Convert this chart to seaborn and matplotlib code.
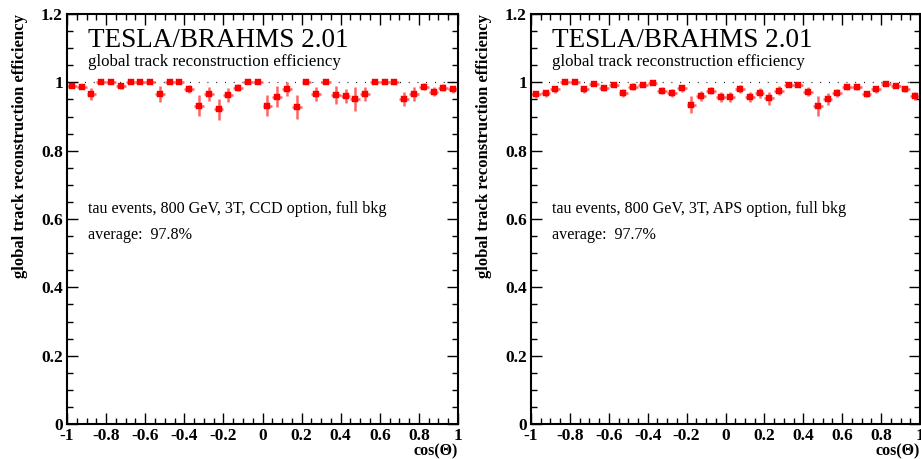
import numpy as np
import pandas as pd
import matplotlib
matplotlib.use("Agg")
import matplotlib.pyplot as plt
import seaborn as sns
from matplotlib.ticker import MultipleLocator, FixedLocator

# ---------------- data ----------------
cos_theta = [-0.975, -0.925, -0.875, -0.825, -0.775, -0.725, -0.675, -0.625, -0.575, -0.525,
             -0.475, -0.425, -0.375, -0.325, -0.275, -0.225, -0.175, -0.125, -0.075, -0.025,
             0.025, 0.075, 0.125, 0.175, 0.225, 0.275, 0.325, 0.375, 0.425, 0.475,
             0.525, 0.575, 0.625, 0.675, 0.725, 0.775, 0.825, 0.875, 0.925, 0.975]
bin_halfwidth = 0.025

ccd_eff = [0.990, 0.987, 0.965, 1.0, 1.0, 0.988, 1.0, 1.0, 1.0, 0.966,
           1.0, 1.0, 0.980, 0.932, 0.966, 0.921, 0.963, 0.984, 1.0, 1.0,
           0.932, 0.958, 0.980, 0.929, 1.0, 0.966, 1.0, 0.963, 0.960, 0.951,
           0.965, 1.0, 1.0, 1.0, 0.951, 0.965, 0.987, 0.973, 0.984, 0.980]
ccd_err = [0.007, 0.007, 0.018, 0.0, 0.0, 0.008, 0.0, 0.0, 0.0, 0.024,
           0.0, 0.0, 0.012, 0.03, 0.02, 0.03, 0.02, 0.01, 0.0, 0.0,
           0.03, 0.03, 0.02, 0.035, 0.0, 0.02, 0.0, 0.025, 0.02, 0.035,
           0.02, 0.0, 0.0, 0.0, 0.02, 0.02, 0.01, 0.012, 0.01, 0.01]

aps_eff = [0.965, 0.968, 0.980, 1.0, 1.0, 0.980, 0.994, 0.982, 0.992, 0.968,
           0.987, 0.992, 0.999, 0.975, 0.968, 0.982, 0.934, 0.960, 0.975, 0.958,
           0.958, 0.980, 0.956, 0.968, 0.953, 0.976, 0.992, 0.992, 0.973, 0.931,
           0.951, 0.968, 0.987, 0.987, 0.966, 0.980, 0.994, 0.990, 0.980, 0.961]
aps_err = [0.01, 0.01, 0.01, 0.0, 0.0, 0.01, 0.005, 0.008, 0.005, 0.012,
           0.01, 0.006, 0.003, 0.01, 0.012, 0.01, 0.025, 0.015, 0.01, 0.015,
           0.015, 0.012, 0.015, 0.015, 0.018, 0.012, 0.005, 0.005, 0.012, 0.03,
           0.018, 0.012, 0.008, 0.008, 0.01, 0.01, 0.005, 0.005, 0.008, 0.012]

panel_info = ["tau events, 800 GeV, 3T, CCD option, full bkg",
              "tau events, 800 GeV, 3T, APS option, full bkg"]
panel_avg = ["average:  97.8%", "average:  97.7%"]
title_text = "TESLA/BRAHMS 2.01"
subtitle_text = "global track reconstruction efficiency"
ylabel_text = "global track reconstruction efficiency"
xlabel_text = "cos(\u0398)"
x_ticks = [-1, -0.8, -0.6, -0.4, -0.2, 0, 0.2, 0.4, 0.6, 0.8, 1]
x_ticklabels = ["-1", "-0.8", "-0.6", "-0.4", "-0.2", "0", "0.2", "0.4", "0.6", "0.8", "1"]
y_ticks = [0, 0.2, 0.4, 0.6, 0.8, 1, 1.2]
y_ticklabels = ["0", "0.2", "0.4", "0.6", "0.8", "1", "1.2"]

# ---------------- style ----------------
sns.set_theme(style="ticks")
plt.rcParams["font.family"] = ["Liberation Serif", "DejaVu Serif"]

W, H = 921, 459
fig = plt.figure(figsize=(W / 100, H / 100), dpi=100)
fig.patch.set_facecolor("white")

ax_left = fig.add_axes([67 / W, (H - 424) / H, 391 / W, 410 / H])
ax_right = fig.add_axes([531 / W, (H - 424) / H, 389 / W, 410 / H])

datasets = [(ax_left, ccd_eff, ccd_err), (ax_right, aps_eff, aps_err)]

for i, (ax, eff, err) in enumerate(datasets):
    df = pd.DataFrame({"cos": cos_theta, "eff": eff, "err": err})
    ax.set_facecolor("white")
    # dotted reference line at 1
    ax.axhline(1.0, color="black", lw=0.9, ls=(0, (0.7, 6.3)), zorder=1)
    # error bars
    ax.errorbar(df["cos"], df["eff"], yerr=df["err"], xerr=bin_halfwidth,
                fmt="none", ecolor="#ff6464", elinewidth=1.8, capsize=0, zorder=2)
    sns.scatterplot(data=df, x="cos", y="eff", ax=ax, marker="s", s=24,
                    color="#ff0000", edgecolor="#ff0000", linewidth=0.3, zorder=3,
                    legend=False)

    ax.set_xlim(-1, 1)
    ax.set_ylim(0, 1.2)
    ax.xaxis.set_major_locator(FixedLocator(x_ticks))
    ax.set_xticklabels(x_ticklabels)
    ax.yaxis.set_major_locator(FixedLocator(y_ticks))
    ax.set_yticklabels(y_ticklabels)
    ax.xaxis.set_minor_locator(MultipleLocator(0.05))
    ax.yaxis.set_minor_locator(MultipleLocator(0.05))
    ax.tick_params(which="both", direction="in", top=True, right=True,
                   color="black", width=1.0)
    ax.tick_params(which="major", length=8, labelsize=12.5, pad=3)
    ax.tick_params(which="minor", length=4)
    for lbl in ax.get_xticklabels() + ax.get_yticklabels():
        lbl.set_fontweight("bold")
        lbl.set_color("black")
    for sp in ax.spines.values():
        sp.set_visible(True)
        sp.set_color("black")
        sp.set_linewidth(1.5)

    ax.set_ylabel(ylabel_text, fontsize=12, fontweight="bold", loc="top", color="black")
    ax.yaxis.set_label_coords(-0.10, 1.0)
    ax.set_xlabel(xlabel_text, fontsize=11.5, fontweight="bold", loc="right", color="black")
    ax.xaxis.set_label_coords(1.0, -0.048)

    ax.text(-0.893, 1.103, title_text, fontsize=19.5, va="baseline", ha="left", color="black")
    ax.text(-0.893, 1.0486, subtitle_text, fontsize=12.2, va="baseline", ha="left", color="black")
    ax.text(-0.893, 0.618, panel_info[i], fontsize=11.6, va="baseline", ha="left", color="black")
    ax.text(-0.893, 0.5405, panel_avg[i], fontsize=11.6, va="baseline", ha="left", color="black")

fig.savefig("out.png", dpi=100, facecolor="white")
